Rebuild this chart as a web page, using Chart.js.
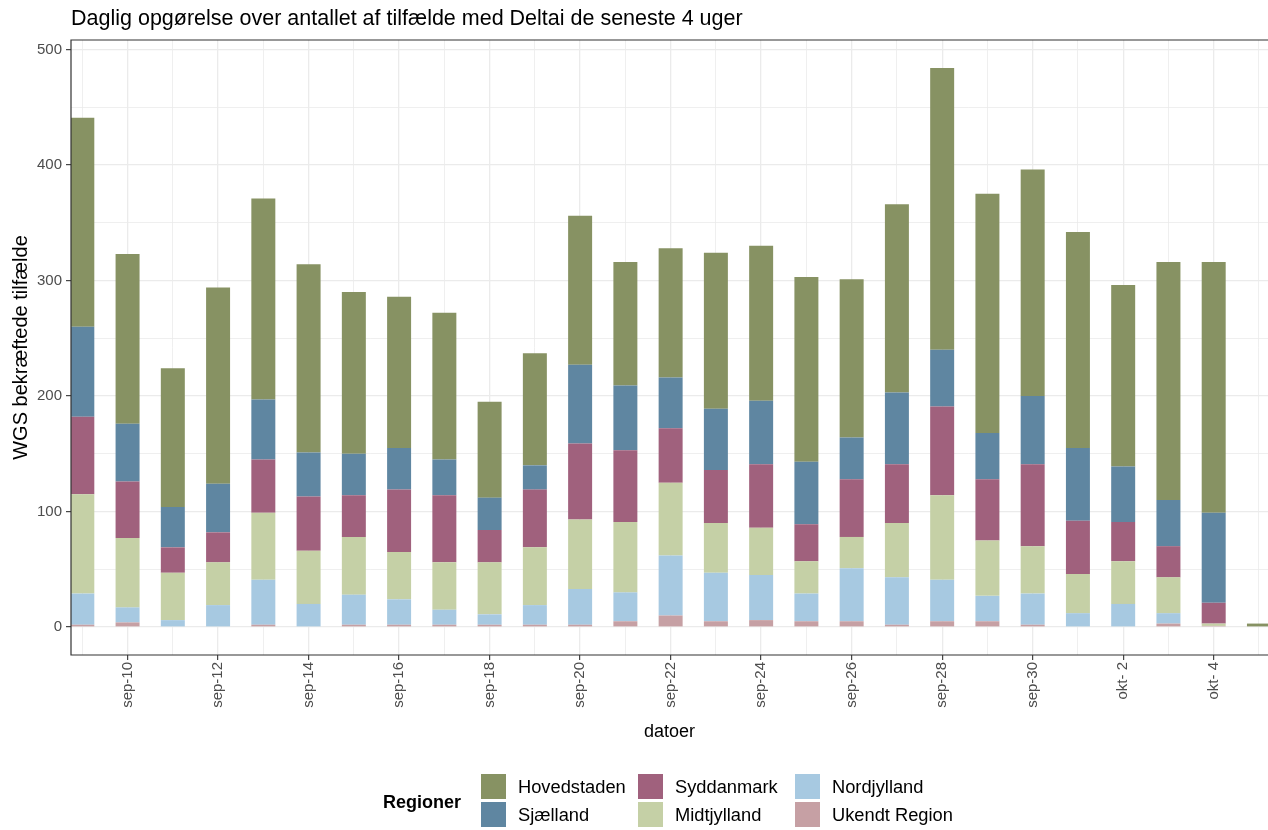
<!DOCTYPE html>
<html>
<head>
<meta charset="utf-8">
<script src="https://cdn.jsdelivr.net/npm/chart.js@4.4.0/dist/chart.umd.min.js"></script>
<style>
  html, body { margin: 0; padding: 0; background: #fff; overflow: hidden; }
  #wrap { width: 1268px; height: 830px; }
</style>
</head>
<body>
<div id="wrap"><canvas id="myChart" width="1268" height="830"></canvas></div>
<script>
"use strict";

const dates = ["sep- 9", "sep-10", "sep-11", "sep-12", "sep-13", "sep-14", "sep-15", "sep-16", "sep-17",
    "sep-18", "sep-19", "sep-20", "sep-21", "sep-22", "sep-23", "sep-24", "sep-25", "sep-26", "sep-27",
    "sep-28", "sep-29", "sep-30", "okt- 1", "okt- 2", "okt- 3", "okt- 4", "okt- 5"];

const ukendt      = [2, 4, 0, 0, 2, 0, 2, 2, 2, 2, 2, 2, 5, 10, 5, 6, 5, 5, 2, 5, 5, 2, 0, 0, 3, 1, 0];
const nordjylland = [27, 13, 6, 19, 39, 20, 26, 22, 13, 9, 17, 31, 25, 52, 42, 39, 24, 46, 41, 36, 22, 27, 12, 20, 9, 0, 0];
const midtjylland = [86, 60, 41, 37, 58, 46, 50, 41, 41, 45, 50, 60, 61, 63, 43, 41, 28, 27, 47, 73, 48, 41, 34, 37, 31, 2, 0];
const syddanmark  = [67, 49, 22, 26, 46, 47, 36, 54, 58, 28, 50, 66, 62, 47, 46, 55, 32, 50, 51, 77, 53, 71, 46, 34, 27, 18, 0];
const sjaelland   = [78, 50, 35, 42, 52, 38, 36, 36, 31, 28, 21, 68, 56, 44, 53, 55, 54, 36, 62, 49, 40, 59, 63, 48, 40, 78, 0];
const hovedstaden = [181, 147, 120, 170, 174, 163, 140, 131, 127, 83, 97, 129, 107, 112, 135, 134, 160, 137, 163, 244, 207, 196, 187, 157, 206, 217, 3];

const yGrid = [0, 50, 100, 150, 200, 250, 300, 350, 400, 450, 500];
const yLabels = [0, 100, 200, 300, 400, 500];

// stacking order: first one sits at the bottom
const regions = ["Ukendt Region", "Nordjylland", "Midtjylland", "Syddanmark", "Sjælland", "Hovedstaden"];
const series = [ukendt, nordjylland, midtjylland, syddanmark, sjaelland, hovedstaden];
const colors = ["#c6a0a4", "#a7c9e1", "#c5d0a6", "#a0617d", "#5f86a1", "#879263"];

const FONT = '"Liberation Sans", Arial, sans-serif';

// title, panel border and the legend are drawn by hand, ggplot style
const extras = {
    id: 'extras',
    afterDraw(chart) {
        const ctx = chart.ctx;
        const area = chart.chartArea;
        ctx.save();

        ctx.strokeStyle = '#333333';
        ctx.lineWidth = 1.2;
        ctx.beginPath();
        ctx.moveTo(chart.width + 2, area.top);
        ctx.lineTo(area.left, area.top);
        ctx.lineTo(area.left, area.bottom);
        ctx.lineTo(chart.width + 2, area.bottom);
        ctx.stroke();

        ctx.fillStyle = '#000';
        ctx.font = '21.5px ' + FONT;
        ctx.textBaseline = 'alphabetic';
        ctx.textAlign = 'left';
        ctx.fillText("Daglig opgørelse over antallet af tilfælde med Deltai de seneste 4 uger", 71, 25);

        // legend: 3 columns x 2 rows, filled column by column
        ctx.font = 'bold 18px ' + FONT;
        ctx.textBaseline = 'middle';
        ctx.fillText("Regioner", 383, 803);
        const order = [5, 4, 3, 2, 1, 0];
        const colX = [481, 638, 795];
        const rowY = [774, 802];
        ctx.font = '18.3px ' + FONT;
        order.forEach((d, k) => {
            const cx = colX[Math.floor(k / 2)];
            const cy = rowY[k % 2];
            ctx.fillStyle = colors[d];
            ctx.fillRect(cx, cy, 25, 25);
            ctx.fillStyle = '#000';
            ctx.fillText(regions[d], cx + 37, cy + 14);
        });
        ctx.restore();
    }
};

new Chart("myChart", {
    type: 'bar',
    data: {
        datasets: regions.map((name, d) => ({
            label: name,
            data: series[d].map((v, i) => ({x: i, y: v})),
            backgroundColor: colors[d],
            borderWidth: 0,
            barPercentage: 0.53,
            categoryPercentage: 1,
            clip: 0
        }))
    },
    plugins: [extras],
    options: {
        responsive: false,
        animation: false,
        devicePixelRatio: 1,
        layout: {padding: {top: 40, left: 0, right: 0, bottom: 0}},
        plugins: {
            legend: {display: false},
            title: {display: false},
            tooltip: {enabled: false}
        },
        scales: {
            x: {
                type: 'linear',
                stacked: true,
                offset: false,
                min: -0.25,
                max: 26.2,
                afterBuildTicks: (scale) => {
                    scale.ticks = dates.map((d, i) => ({value: i}));
                },
                afterFit: (scale) => {
                    scale.height = 175;
                    scale.paddingLeft = 0;
                    scale.paddingRight = 0;
                },
                grid: {
                    offset: false,
                    color: '#ebebeb',
                    lineWidth: (c) => (c.tick && c.tick.value % 2 === 1 ? 1.3 : 0.8),
                    tickColor: (c) => (c.tick && c.tick.value % 2 === 1 ? '#333333' : 'rgba(0,0,0,0)'),
                    tickLength: 5,
                    tickWidth: 1.1
                },
                border: {display: false},
                ticks: {
                    autoSkip: false,
                    maxRotation: 90,
                    minRotation: 90,
                    padding: 2,
                    color: '#4d4d4d',
                    font: {family: FONT, size: 15},
                    callback: (v) => (v % 2 === 1 ? dates[v] : '')
                },
                title: {
                    display: true,
                    text: 'datoer',
                    color: '#000',
                    font: {family: FONT, size: 18},
                    padding: {top: 0, bottom: 87}
                }
            },
            y: {
                stacked: true,
                min: -24.2,
                max: 508.2,
                afterBuildTicks: (scale) => {
                    scale.ticks = yGrid.map(v => ({value: v}));
                },
                afterFit: (scale) => {
                    scale.width = 71;
                    scale.paddingTop = 0;
                    scale.paddingBottom = 0;
                },
                grid: {
                    color: '#ebebeb',
                    lineWidth: (c) => (c.tick && yLabels.includes(c.tick.value) ? 1.3 : 0.8),
                    tickColor: (c) => (c.tick && yLabels.includes(c.tick.value) ? '#333333' : 'rgba(0,0,0,0)'),
                    tickLength: 5,
                    tickWidth: 1.1
                },
                border: {display: false},
                ticks: {
                    autoSkip: false,
                    padding: 4,
                    color: '#4d4d4d',
                    font: {family: FONT, size: 15},
                    callback: (v) => (yLabels.includes(v) ? String(v) : '')
                },
                title: {
                    display: true,
                    text: 'WGS bekræftede tilfælde',
                    color: '#000',
                    font: {family: FONT, size: 20},
                    padding: {top: 9, bottom: 0}
                }
            }
        }
    }
});
</script>
</body>
</html>
